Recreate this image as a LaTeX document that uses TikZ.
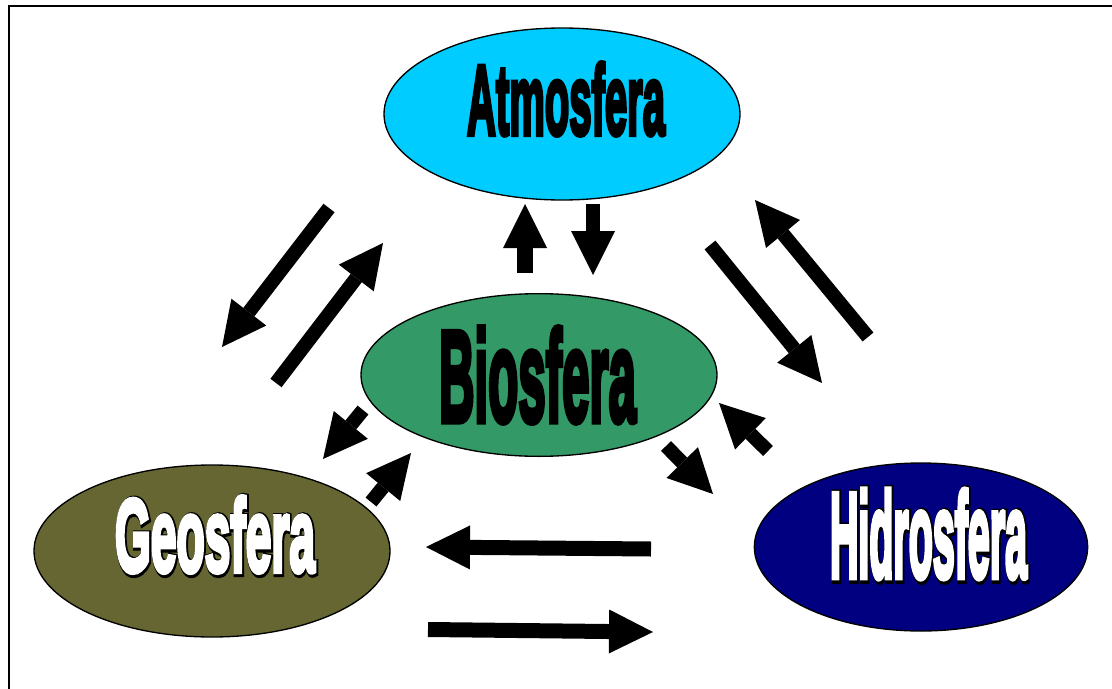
\documentclass[tikz,border=0pt]{standalone}
\usepackage{fontspec}
\usetikzlibrary{shapes.geometric,arrows.meta}
\newfontface\wordartfont[FakeBold=5]{Liberation Sans Bold}
\newfontface\wordartheavy[FakeBold=9]{Liberation Sans Bold}
\definecolor{atmcyan}{HTML}{00CCFF}
\definecolor{biogreen}{HTML}{339966}
\definecolor{geoolive}{HTML}{666633}
\definecolor{hidnavy}{HTML}{000080}
% condensed, stretched lettering of a given width and height
\newcommand\watext[3]{\resizebox{#1}{#2}{\wordartfont #3}}
\newcommand\waheavy[3]{\resizebox{#1}{#2}{\wordartheavy #3}}
\begin{document}
\begin{tikzpicture}[x=0.75pt,y=-0.75pt,
  sphere/.style={ellipse,draw=black,line width=1pt,inner sep=0pt,outer sep=0pt},
  lettering/.style={inner sep=0pt,outer sep=0pt},
  flow/.style={line width=10.5pt,-{Triangle[length=33pt,width=33pt,line width=0pt]}}]
\useasboundingbox (0,0) rectangle (1112,688);
% page frame, running off the right and bottom
\begin{scope}
  \clip (0,0) rectangle (1112,688);
  \draw[line width=1.6pt] (9,6) rectangle (1140,720);
\end{scope}

% the four spheres
\node[sphere,fill=atmcyan,minimum width=267pt,minimum height=129pt] (atm) at (562,114) {};
\node[sphere,fill=biogreen,minimum width=267pt,minimum height=122pt] (bio) at (539,375) {};
\node[sphere,fill=geoolive,minimum width=267pt,minimum height=129pt] (geo) at (212,551) {};
\node[sphere,fill=hidnavy,minimum width=250pt,minimum height=126pt] (hid) at (921,547) {};

% names
\node[lettering] (atm-t) at (566,99) {\watext{148.5pt}{54pt}{Atmosfera}};
\node[lettering] (bio-t) at (537.5,375) {\watext{147.75pt}{70.5pt}{Biosfera}};
\node[lettering,text=black] (geo-s) at (216,535.5) {\waheavy{150pt}{56.25pt}{Geosfera}};
\node[lettering,text=white] (geo-t) at (215,534.5) {\watext{150pt}{56.25pt}{Geosfera}};
\node[lettering,text=black] (hid-s) at (929.5,535) {\waheavy{147.75pt}{66pt}{Hidrosfera}};
\node[lettering,text=white] (hid-t) at (928.5,534) {\watext{147.75pt}{66pt}{Hidrosfera}};

% exchange arrows: tail and tip of each
\coordinate (ab1) at (525,273); \coordinate (ab2) at (525,204);
\coordinate (ba1) at (593,204); \coordinate (ba2) at (593,275);
\coordinate (ag1) at (329,208); \coordinate (ag2) at (222,347);
\coordinate (ga1) at (276,383); \coordinate (ga2) at (383,243);
\coordinate (ah1) at (710,245); \coordinate (ah2) at (822,383);
\coordinate (ha1) at (868,337); \coordinate (ha2) at (755,200);
\coordinate (bg1) at (363,410); \coordinate (bg2) at (323,459);
\coordinate (gb1) at (371,502); \coordinate (gb2) at (411,453);
\coordinate (bh1) at (666,446); \coordinate (bh2) at (713,494);
\coordinate (hb1) at (768,451); \coordinate (hb2) at (719,403);
\coordinate (hg1) at (651,549); \coordinate (hg2) at (426,547);
\coordinate (gh1) at (428,629.5); \coordinate (gh2) at (653,632);

\draw[flow,line width=12pt] (ab1) -- (ab2);
\draw[flow] (ba1) -- (ba2);
\draw[flow] (ag1) -- (ag2);
\draw[flow] (ga1) -- (ga2);
\draw[flow] (ah1) -- (ah2);
\draw[flow] (ha1) -- (ha2);
\draw[flow] (bg1) -- (bg2);
\draw[flow] (gb1) -- (gb2);
\draw[flow] (bh1) -- (bh2);
\draw[flow] (hb1) -- (hb2);
\draw[flow,line width=11.25pt] (hg1) -- (hg2);
\draw[flow,line width=11.25pt] (gh1) -- (gh2);
\end{tikzpicture}
\end{document}
